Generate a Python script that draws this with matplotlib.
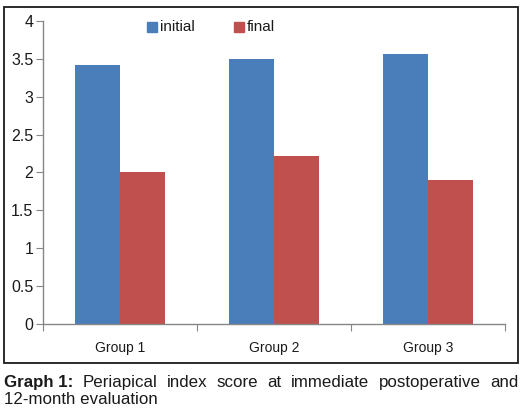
import matplotlib
matplotlib.use("Agg")
import matplotlib.pyplot as plt
import numpy as np
from matplotlib.patches import Rectangle

plt.rcParams['font.family'] = ['Liberation Sans', 'DejaVu Sans']

categories = ["Group 1", "Group 2", "Group 3"]
initial = [3.42, 3.50, 3.56]
final = [2.00, 2.22, 1.90]
yticks = [0, 0.5, 1, 1.5, 2, 2.5, 3, 3.5, 4]
ytick_labels = ["0", "0.5", "1", "1.5", "2", "2.5", "3", "3.5", "4"]

W, H = 526, 415
fig = plt.figure(figsize=(W / 100, H / 100), dpi=100)

# outer frame
fig.add_artist(Rectangle((4 / W, 1 - 363 / H), 514 / W, 356 / H, transform=fig.transFigure,
                         fill=False, edgecolor="#1a1a1a", linewidth=1.3))

ax = fig.add_axes([43 / W, 1 - 324 / H, 462 / W, 303 / H])
x = np.arange(len(categories))
bw = 0.29
ax.bar(x - bw / 2, initial, bw, color="#4a7ebb", label="initial")
ax.bar(x + bw / 2, final, bw, color="#c0504d", label="final")

ax.set_xlim(-0.5, 2.5)
ax.set_ylim(0, 4)
ax.set_yticks(yticks)
ax.set_yticklabels(ytick_labels, fontsize=11.5, color="#1a1a1a")
ax.set_xticks([-0.5, 0.5, 1.5, 2.5])
ax.set_xticklabels([])
ax.set_xticks(x, minor=True)
ax.set_xticklabels(categories, minor=True, fontsize=10, color="#1a1a1a")
ax.tick_params(axis="x", which="minor", length=0, pad=12)
ax.tick_params(axis="x", which="major", length=5, color="#868686", direction="out")
ax.tick_params(axis="y", length=5, color="#868686", pad=2)
for s in ["top", "right"]:
    ax.spines[s].set_visible(False)
for s in ["left", "bottom"]:
    ax.spines[s].set_color("#868686")
    ax.spines[s].set_linewidth(1.0)

# legend
fig.add_artist(Rectangle((147 / W, 1 - 32 / H), 10 / W, 10 / H, transform=fig.transFigure,
                         color="#4a7ebb"))
fig.text(160 / W, 1 - 27 / H, "initial", fontsize=11, va="center", ha="left", color="#1a1a1a")
fig.add_artist(Rectangle((234 / W, 1 - 32 / H), 10 / W, 10 / H, transform=fig.transFigure,
                         color="#c0504d"))
fig.text(247 / W, 1 - 27 / H, "final", fontsize=11, va="center", ha="left", color="#1a1a1a")

# caption, justified first line
fig.canvas.draw()
renderer = fig.canvas.get_renderer()
cap_fs = 12.2
cap_color = "#1a1a1a"
words = [("Graph 1:", "bold")] + [(w, "normal") for w in
         "Periapical index score at immediate postoperative and".split()]
left, right = 4, 518
y1 = 1 - 387 / H
texts = []
widths = []
for w, wt in words:
    t = fig.text(0, y1, w, fontsize=cap_fs, fontweight=wt, color=cap_color, va="baseline", ha="left")
    bb = t.get_window_extent(renderer)
    texts.append(t)
    widths.append(bb.width)
gap = (right - left - sum(widths)) / (len(words) - 1)
pos = left
for t, wd in zip(texts, widths):
    t.set_x(pos / W)
    pos += wd + gap
fig.text(left / W, 1 - 404 / H, "12-month evaluation", fontsize=cap_fs, color=cap_color,
         va="baseline", ha="left")

fig.savefig("out.png", dpi=100)
